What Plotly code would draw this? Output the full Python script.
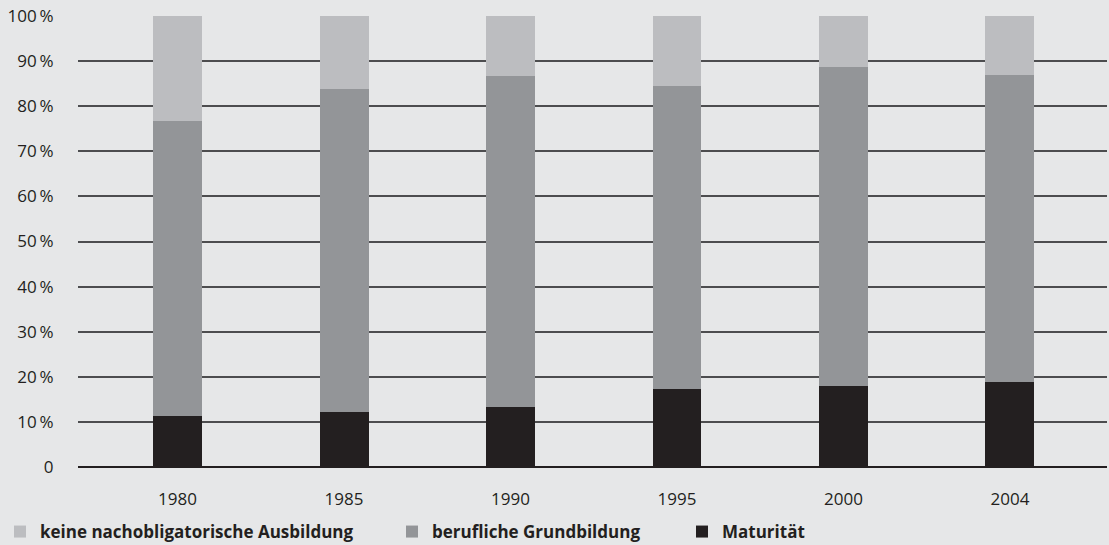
import plotly.graph_objects as go

years = ["1980", "1985", "1990", "1995", "2000", "2004"]
maturitaet = [11.2, 12.3, 13.2, 17.4, 18.0, 18.9]
berufliche_top = [76.7, 83.8, 86.6, 84.4, 88.8, 87.0]
berufliche = [round(b - m, 1) for b, m in zip(berufliche_top, maturitaet)]
keine = [round(100 - b, 1) for b in berufliche_top]

y_ticks = [0, 10, 20, 30, 40, 50, 60, 70, 80, 90, 100]
y_labels = ["0"] + [f"{v}\u2009%" for v in y_ticks[1:]]

names = ["keine nachobligatorische Ausbildung", "berufliche Grundbildung", "Maturität"]
colors = ["#bcbdc0", "#939598", "#231f20"]

bg = "#e6e7e8"
font_family = "Open Sans, Lato, sans-serif"

fig = go.Figure()
series = [maturitaet, berufliche, keine]
series_names = [names[2], names[1], names[0]]
series_colors = [colors[2], colors[1], colors[0]]
legend_ids = ["legend3", "legend2", "legend"]
for vals, nm, col, lg in zip(series, series_names, series_colors, legend_ids):
    fig.add_trace(go.Bar(
        x=years, y=vals, name=nm, marker=dict(color=col, line=dict(width=0)),
        width=0.294, legend=lg, showlegend=True,
    ))

legend_common = dict(
    orientation="h", xref="container", yref="container", yanchor="middle",
    y=(545 - 532) / 545, bgcolor="rgba(0,0,0,0)",
    font=dict(family=font_family, size=17, color="#231f20", weight="bold"),
    itemclick=False, itemdoubleclick=False,
)
fig.update_layout(
    barmode="stack",
    paper_bgcolor=bg, plot_bgcolor=bg,
    width=1109, height=545,
    margin=dict(l=78, r=2, t=16, b=78),
    bargap=0,
    font=dict(family=font_family, size=17, color="#231f20"),
    legend=dict(**legend_common, x=-9 / 1109),
    legend2=dict(**legend_common, x=392 / 1109),
    legend3=dict(**legend_common, x=682 / 1109),
    xaxis=dict(
        type="category", range=[-0.598, 5.583], showgrid=False, zeroline=False,
        showline=False, ticks="outside", ticklen=17, tickcolor="rgba(0,0,0,0)",
        tickfont=dict(size=17, color="#231f20"), fixedrange=True,
    ),
    yaxis=dict(
        range=[0, 100], tickvals=y_ticks, ticktext=y_labels,
        showgrid=True, gridcolor="#4d4d4f", gridwidth=1.6,
        zeroline=True, zerolinecolor="#231f20", zerolinewidth=2,
        showline=False, ticks="outside", ticklen=20, tickcolor="rgba(0,0,0,0)",
        tickfont=dict(size=17, color="#231f20"), fixedrange=True,
    ),
)

fig.write_html("out.html")
